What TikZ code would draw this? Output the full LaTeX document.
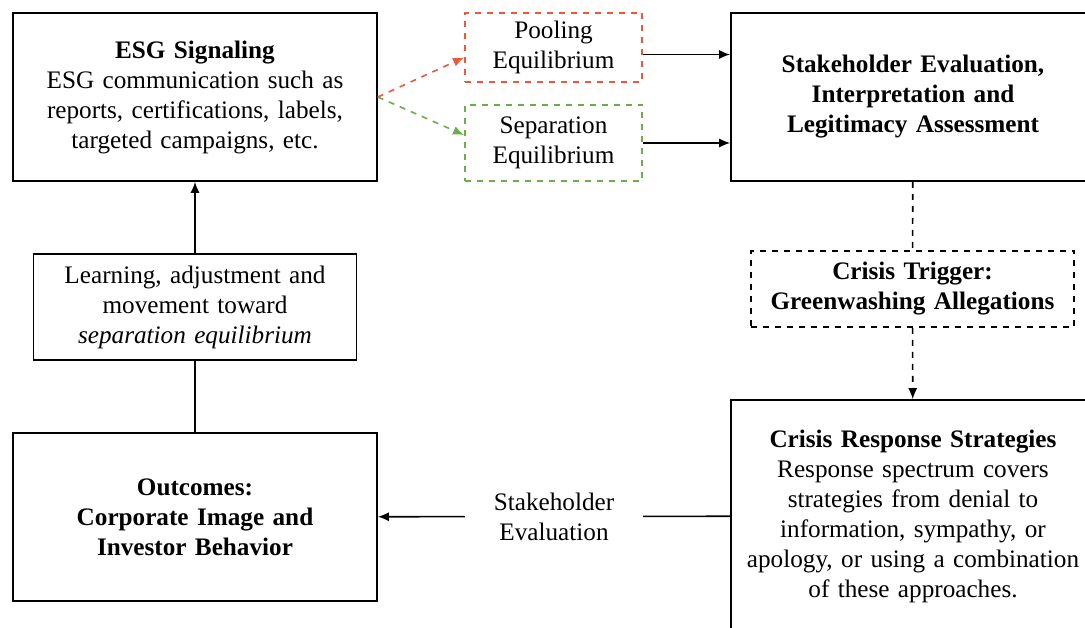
\documentclass[tikz,border=0pt]{standalone}
\usepackage{fontspec}
\setmainfont{Liberation Serif}
\usetikzlibrary{arrows.meta}
\definecolor{poolred}{RGB}{238,88,58}
\definecolor{sepgreen}{RGB}{108,172,78}
\tikzstyle{bigbox} = [rectangle, minimum width = 182pt, minimum height = 84pt, text centered, text width = 175pt, draw = black, thick, fill = white]
\tikzstyle{learnbox} = [rectangle, minimum width = 161pt, minimum height = 53pt, text centered, text width = 155pt, draw = black, thick]
\tikzstyle{triggerbox} = [rectangle, dashed, minimum width = 160.5pt, minimum height = 38pt, text centered, text width = 155pt, draw = black, thick]
\tikzstyle{eqbox} = [rectangle, dashed, minimum width = 86.5pt, text centered, text width = 82pt, thick]
\tikzstyle{arrow} = [thick,->,>={Latex[length=5.5pt,width=4.5pt]}]

\begin{document}
\begin{tikzpicture}[x=0.5pt, y=-0.5pt, node distance = 105pt, font=\fontsize{12.6}{15}\selectfont]
\useasboundingbox (0,0) rectangle (1085,627);

\node(esg) [bigbox] at (195,97) {\textbf{ESG Signaling}\\ESG communication such as\\reports, certifications, labels,\\targeted campaigns, etc.};
\node(learning) [learnbox, below of = esg] {Learning, adjustment and\\movement toward\\\textit{separation equilibrium}};
\node(outcomes) [bigbox, below of = learning] {\textbf{Outcomes:}\\\textbf{Corporate Image and}\\\textbf{Investor Behavior}};

\node(pooling)    [eqbox, draw = poolred, minimum height = 34.5pt] at (553.5,47.5) {Pooling\\Equilibrium};
\node(separation) [eqbox, draw = sepgreen, minimum height = 38pt] at (553.5,143) {Separation\\Equilibrium};

\node(stakeholder) [bigbox] at (913,97) {\textbf{Stakeholder Evaluation,}\\\textbf{Interpretation and}\\\textbf{Legitimacy Assessment}};
\node(trigger) [triggerbox] at (912.5,289) {\textbf{Crisis Trigger:}\\\textbf{Greenwashing Allegations}};
\node(response) [bigbox, minimum height = 116pt] at (913,516) {\textbf{Crisis Response Strategies}\\Response spectrum covers\\strategies from denial to\\information, sympathy, or\\apology, or using a combination\\of these approaches.};

\coordinate (poolout) at ([yshift=-3.5pt]pooling.east);

\draw [arrow] (learning) -- (esg);
\draw [thick] (outcomes) -- (learning);
\draw [arrow, dashed, poolred] (esg.east) -- ([yshift=-5pt]pooling.west);
\draw [arrow, dashed, sepgreen] (esg.east) -- ([yshift=4pt]separation.west);
\draw [arrow] (poolout) -- (poolout -| stakeholder.west);
\draw [arrow] (separation.east) -- (separation.east -| stakeholder.west);
\draw [thick, dashed] (stakeholder) -- (trigger);
\draw [arrow, dashed] (trigger) -- (response);
\draw [arrow] (response) -- node[fill = white, minimum width = 86.5pt, text centered, text width = 82pt]{Stakeholder\\Evaluation} (outcomes);

\end{tikzpicture}
\end{document}
